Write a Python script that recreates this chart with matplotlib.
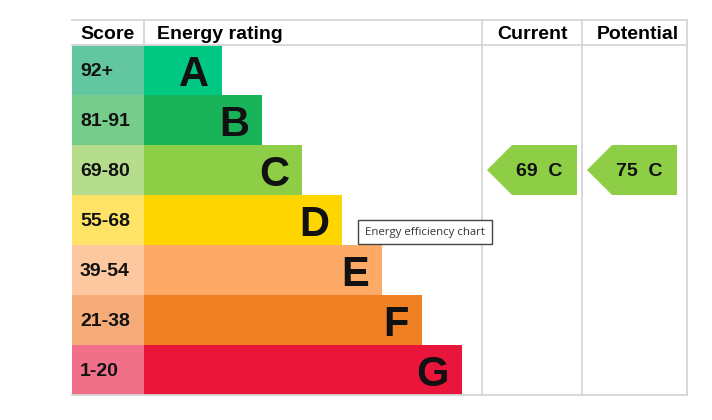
import matplotlib.pyplot as plt
from matplotlib.patches import Polygon, Rectangle

plt.rcParams['font.family'] = ['Liberation Sans', 'DejaVu Sans']

# data
bands = ['A', 'B', 'C', 'D', 'E', 'F', 'G']
score_labels = ['92+', '81-91', '69-80', '55-68', '39-54', '21-38', '1-20']
band_low = [92, 81, 69, 55, 39, 21, 1]
bar_colors = ['#00c781', '#19b459', '#8dce46', '#ffd500', '#fcaa65', '#ef8023', '#e9153b']
score_colors = ['#62c7a0', '#75cc8b', '#b6dd8c', '#ffe366', '#fdc79f', '#f5ac78', '#f0708a']
headers = ['Score', 'Energy rating', 'Current', 'Potential']
current_score = 69
potential_score = 75

W, H = 712, 420
fig = plt.figure(figsize=(W / 100, H / 100), dpi=100)
ax = fig.add_axes([0, 0, 1, 1])
ax.set_xlim(0, W)
ax.set_ylim(H, 0)
ax.axis('off')

# layout in pixels
left, score_w = 72, 72
top, head_h, row_h = 20, 25, 50
bar0, bar_step = 78, 40
col_cur, col_pot, right = 482, 582, 687
grid_c = '#d6d6d6'
fs = 14

row_y = [top + head_h + row_h * i + row_h / 2 for i in range(len(bands))]
bottom = top + head_h + row_h * len(bands)

# score column + bars
ax.barh(row_y, score_w, height=row_h, left=left, color=score_colors)
widths = [bar0 + bar_step * i for i in range(len(bands))]
ax.barh(row_y, widths, height=row_h, left=left + score_w, color=bar_colors)

for y, lab in zip(row_y, score_labels):
    ax.text(left + 8, y, lab, fontsize=fs, fontweight='bold',
            ha='left', va='center_baseline', color='#111')
for y, w, b in zip(row_y, widths, bands):
    ax.text(left + score_w + w - 13, y + 1, b, fontsize=30, fontweight='bold',
            ha='right', va='center_baseline', color='#111')

# grid lines
ax.plot([left, right], [top, top], color=grid_c, lw=1.3)
ax.plot([left, right], [top + head_h, top + head_h], color=grid_c, lw=1.3)
ax.plot([left, right], [bottom, bottom], color=grid_c, lw=1.3)
ax.plot([left + score_w] * 2, [top, top + head_h], color=grid_c, lw=1.3)
for x in (col_cur, col_pot, right):
    ax.plot([x, x], [top, bottom], color=grid_c, lw=1.3)

# headers
hy = top + head_h / 2
ax.text(left + 8, hy, headers[0], fontsize=fs, fontweight='bold', ha='left', va='center_baseline')
ax.text(left + score_w + 13, hy, headers[1], fontsize=fs, fontweight='bold', ha='left', va='center_baseline')
ax.text((col_cur + col_pot) / 2, hy, headers[2], fontsize=fs, fontweight='bold', ha='center', va='center_baseline')
ax.text((col_pot + right) / 2 + 3, hy, headers[3], fontsize=fs, fontweight='bold', ha='center', va='center_baseline')


def band_of(score):
    for i, lo in enumerate(band_low):
        if score >= lo:
            return i
    return len(bands) - 1


def arrow(x0, x1, score):
    i = band_of(score)
    yc = row_y[i]
    y0, y1 = yc - row_h / 2, yc + row_h / 2
    tip = 25
    pts = [(x0, yc), (x0 + tip, y0), (x1, y0), (x1, y1), (x0 + tip, y1)]
    ax.add_patch(Polygon(pts, closed=True, color=bar_colors[i], lw=0))
    ax.text((x0 + tip + x1) / 2 - 5, yc, f'{score}  {bands[i]}', fontsize=fs,
            fontweight='bold', ha='center', va='center_baseline', color='#111')


arrow(col_cur + 5, col_pot - 5, current_score)
arrow(col_pot + 5, right - 10, potential_score)

# tooltip
ax.add_patch(Rectangle((357.5, 219.5), 134, 24, facecolor='white', edgecolor='#444', lw=1, zorder=5))
ax.text(425, 232, 'Energy efficiency chart', fontsize=8.2, family=['Open Sans', 'DejaVu Sans'],
        ha='center', va='center', color='#333', zorder=6)

fig.savefig('out.png', dpi=100)
